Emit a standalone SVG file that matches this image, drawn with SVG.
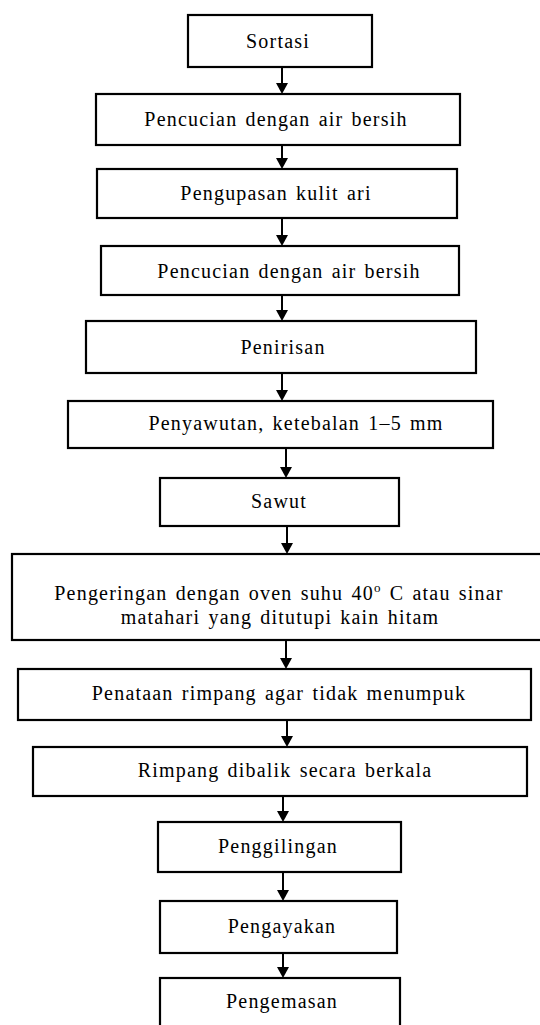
<svg xmlns="http://www.w3.org/2000/svg" width="540" height="1025" viewBox="0 0 540 1025">
<style>
.box{fill:#fff;stroke:#000;stroke-width:2.2}
.t{font-family:"Liberation Serif","Times New Roman",serif;font-size:20px;letter-spacing:1.2px;word-spacing:2px;text-anchor:middle;fill:#000}
.c{stroke:#000;stroke-width:2;fill:none}
.h{fill:#000}
</style>
<defs>
<marker id="ah" markerUnits="userSpaceOnUse" markerWidth="12" markerHeight="11" refX="6" refY="10.5" orient="auto-start-reverse" viewBox="0 0 12 11">
<path class="h" d="M0,0 L12,0 L6,11 Z" transform="rotate(0)"/>
</marker>
</defs>
<rect width="540" height="1025" fill="#fff"/>
<g id="connectors">
<path class="h" d="M276,83 L288,83 L282,94 Z"/><line class="c" x1="282" y1="67" x2="282" y2="84"/>
<path class="h" d="M276,158 L288,158 L282,169 Z"/><line class="c" x1="282" y1="144" x2="282" y2="159"/>
<path class="h" d="M276,235 L288,235 L282,246 Z"/><line class="c" x1="282" y1="218" x2="282" y2="236"/>
<path class="h" d="M276,310 L288,310 L282,321 Z"/><line class="c" x1="282" y1="295" x2="282" y2="311"/>
<path class="h" d="M276,390 L288,390 L282,401 Z"/><line class="c" x1="282" y1="373" x2="282" y2="391"/>
<path class="h" d="M280,467 L292,467 L286,478 Z"/><line class="c" x1="286" y1="448" x2="286" y2="468"/>
<path class="h" d="M281,543 L293,543 L287,554 Z"/><line class="c" x1="287" y1="526" x2="287" y2="544"/>
<path class="h" d="M280,658 L292,658 L286,669 Z"/><line class="c" x1="286" y1="640" x2="286" y2="659"/>
<path class="h" d="M281,736 L293,736 L287,747 Z"/><line class="c" x1="287" y1="719" x2="287" y2="737"/>
<path class="h" d="M277,811 L289,811 L283,822 Z"/><line class="c" x1="283" y1="796" x2="283" y2="812"/>
<path class="h" d="M277,890 L289,890 L283,901 Z"/><line class="c" x1="283" y1="872" x2="283" y2="891"/>
<path class="h" d="M277,967 L289,967 L283,978 Z"/><line class="c" x1="283" y1="953" x2="283" y2="968"/>
</g>
<g id="n1"><rect class="box" x="188" y="15" width="184" height="52"/><text class="t" x="278" y="48">Sortasi</text></g>
<g id="n2"><rect class="box" x="96" y="94" width="364" height="51"/><text class="t" x="276" y="126">Pencucian dengan air bersih</text></g>
<g id="n3"><rect class="box" x="97" y="169" width="360" height="49"/><text class="t" x="276" y="200">Pengupasan kulit ari</text></g>
<g id="n4"><rect class="box" x="101" y="246" width="358" height="49"/><text class="t" x="289" y="278">Pencucian dengan air bersih</text></g>
<g id="n5"><rect class="box" x="86" y="321" width="390" height="52"/><text class="t" x="283" y="354">Penirisan</text></g>
<g id="n6"><rect class="box" x="68" y="401" width="425" height="47"/><text class="t" x="296" y="430">Penyawutan, ketebalan 1–5 mm</text></g>
<g id="n7"><rect class="box" x="160" y="478" width="239" height="48"/><text class="t" x="279" y="508">Sawut</text></g>
<g id="n8"><rect class="box" x="12" y="554" width="530" height="86"/><text class="t" x="279" y="600">Pengeringan dengan oven suhu 40<tspan font-size="13" dy="-8">o</tspan><tspan dy="8"> C atau sinar</tspan></text><text class="t" x="280" y="624">matahari yang ditutupi kain hitam</text></g>
<g id="n9"><rect class="box" x="18" y="669" width="513" height="51"/><text class="t" x="279" y="700">Penataan rimpang agar tidak menumpuk</text></g>
<g id="n10"><rect class="box" x="33" y="747" width="494" height="49"/><text class="t" x="285" y="777">Rimpang dibalik secara berkala</text></g>
<g id="n11"><rect class="box" x="158" y="822" width="243" height="50"/><text class="t" x="278" y="853">Penggilingan</text></g>
<g id="n12"><rect class="box" x="160" y="901" width="237" height="52"/><text class="t" x="282" y="933">Pengayakan</text></g>
<g id="n13"><rect class="box" x="160" y="978" width="240" height="60"/><text class="t" x="282" y="1008">Pengemasan</text></g>
</svg>
